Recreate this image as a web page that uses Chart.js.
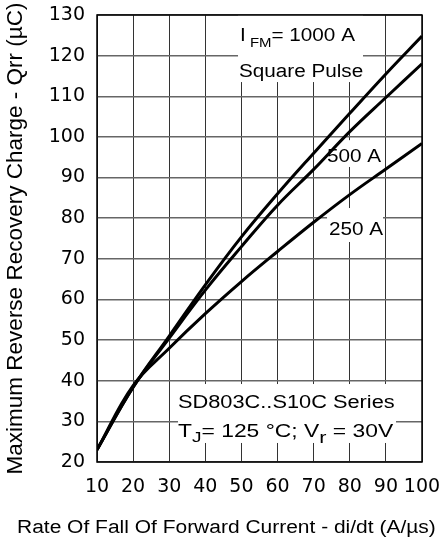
<!DOCTYPE html>
<html>
<head>
<meta charset="utf-8">
<script src="https://cdn.jsdelivr.net/npm/chart.js@4"></script>
<style>
html,body{margin:0;padding:0;background:#fff;}
canvas{display:block;}
</style>
</head>
<body>
<canvas id="c" width="441" height="538"></canvas>
<script>
// ---- data ----
const rates   = [10, 20, 30, 40, 50, 60, 70, 80, 90, 100];           // di/dt (A/us)
const qrr1000 = [23, 38.4, 51, 63.6, 75.4, 86, 96, 105.8, 115.5, 124.8]; // IFM = 1000 A
const qrr500  = [23, 38.4, 50.5, 62.3, 73, 83.2, 92, 101.3, 109.7, 118]; // 500 A
const qrr250  = [23, 38.8, 48, 56.5, 64.4, 71.8, 79, 85.8, 92.1, 98.4];  // 250 A
const xTickLabels = ['10','20','30','40','50','60','70','80','90','100'];
const yTickLabels = ['20','30','40','50','60','70','80','90','100','110','120','130'];

const xTitle = 'Rate Of Fall Of Forward Current - di/dt (A/µs)';
const yTitle = 'Maximum Reverse Recovery Charge - Qrr (µC)';

const FONT = '"Liberation Sans", Arial, Helvetica, sans-serif';
const TICKFONT = '"DejaVu Sans", sans-serif';

function pts(ys){ return rates.map((x,i)=>({x:x, y:ys[i]})); }

// white label boxes (data coordinates)
const boxes = [
  {x0:49.05, x1:83.66, y0:113.5, y1:130},
  {x0:73.1,  x1:89.2,  y0:92.6,  y1:99.2},
  {x0:73.7,  x1:89.2,  y0:74.14, y1:82.5},
  {x0:32.43, x1:92.8,  y0:24.68, y1:39.19}
];
// text labels (data coordinates of left baseline)
const labels = [
  {x:49.6, y:123.48, sx:1.15, runs:[{t:'I',s:18},{t:' FM',s:13,dy:5.5},{t:'= 1000 A',s:18}]},
  {x:49.3, y:114.75, sx:1.15, runs:[{t:'Square Pulse',s:18}]},
  {x:73.7, y:93.83,  sx:1.15, runs:[{t:'500 A',s:18}]},
  {x:74.25,y:75.86,  sx:1.15, runs:[{t:'250 A',s:18}]},
  {x:32.43,y:33.29,  sx:1.21, runs:[{t:'SD803C..S10C Series',s:18}]},
  {x:32.43,y:26.15,  sx:1.27, runs:[{t:'T',s:18},{t:'J',s:15,dy:5},{t:'= 125 °C; V',s:18},{t:'r',s:17,dy:6},{t:' = 30V',s:18}]}
];

function drawRuns(ctx, x, y, runs, sx){
  ctx.save();
  ctx.translate(x, y);
  ctx.scale(sx, 1);
  ctx.fillStyle = '#000';
  ctx.textBaseline = 'alphabetic';
  ctx.textAlign = 'left';
  let cx = 0;
  for (const r of runs){
    ctx.font = r.s + 'px ' + FONT;
    ctx.fillText(r.t, cx, r.dy || 0);
    cx += ctx.measureText(r.t).width;
  }
  ctx.restore();
}

const annot = {
  id: 'annot',
  beforeDatasetsDraw(chart){
    const {ctx, scales:{x, y}} = chart;
    ctx.save();
    ctx.fillStyle = '#fff';
    for (const b of boxes){
      const l = x.getPixelForValue(b.x0), r = x.getPixelForValue(b.x1);
      const t = y.getPixelForValue(b.y1), btm = y.getPixelForValue(b.y0);
      ctx.fillRect(l, t, r-l, btm-t);
    }
    ctx.restore();
  },
  afterDatasetsDraw(chart){
    const {ctx, chartArea:a, scales:{x, y}} = chart;
    for (const L of labels){
      drawRuns(ctx, x.getPixelForValue(L.x), y.getPixelForValue(L.y), L.runs, L.sx);
    }
    ctx.save();
    ctx.strokeStyle = '#000';
    ctx.lineWidth = 1.5;
    ctx.strokeRect(a.left, a.top, a.right-a.left, a.bottom-a.top);
    ctx.restore();
    // x axis title
    drawRuns(ctx, 17, 533, [{t:xTitle, s:18}], 1.165);
  }
};

function zeroPad(s){ s.paddingLeft = 0; s.paddingRight = 0; s.paddingTop = 0; s.paddingBottom = 0; }

new Chart(document.getElementById('c'), {
  type: 'line',
  data: {
    datasets: [
      {label:'1000 A', data: pts(qrr1000)},
      {label:'500 A',  data: pts(qrr500)},
      {label:'250 A',  data: pts(qrr250)}
    ].map(d => Object.assign(d, {
      borderColor:'#000', borderWidth:3, pointRadius:0, fill:false,
      tension:0.4
    }))
  },
  options: {
    responsive:false, animation:false, devicePixelRatio:1,
    layout:{padding:{top:15, right:19, left:0, bottom:0}},
    plugins:{legend:{display:false}, tooltip:{enabled:false}},
    scales:{
      x:{
        type:'linear', min:10, max:100,
        afterBuildTicks: s => { s.ticks = rates.map(v=>({value:v})); },
        ticks:{autoSkip:false, maxRotation:0, color:'#000', padding:14,
               font:{family:TICKFONT, size:19},
               callback:(v,i)=>xTickLabels[i]},
        grid:{color:'#333', lineWidth:1, drawTicks:false},
        border:{display:false},
        afterFit: s => { s.height = 76; zeroPad(s); }
      },
      y:{
        type:'linear', min:20, max:130,
        afterBuildTicks: s => { s.ticks = yTickLabels.map(v=>({value:Number(v)})); },
        ticks:{color:'#000', padding:12, font:{family:TICKFONT, size:19},
               callback:(v,i)=>yTickLabels[i]},
        grid:{color:'#666', lineWidth:1.4, drawTicks:false},
        border:{display:false},
        title:{display:true, text:yTitle, color:'#000',
               font:{family:FONT, size:22.5}, padding:{top:2.5, bottom:0}},
        afterFit: s => { s.width = 97; zeroPad(s); }
      }
    }
  },
  plugins:[annot]
});
</script>
</body>
</html>
